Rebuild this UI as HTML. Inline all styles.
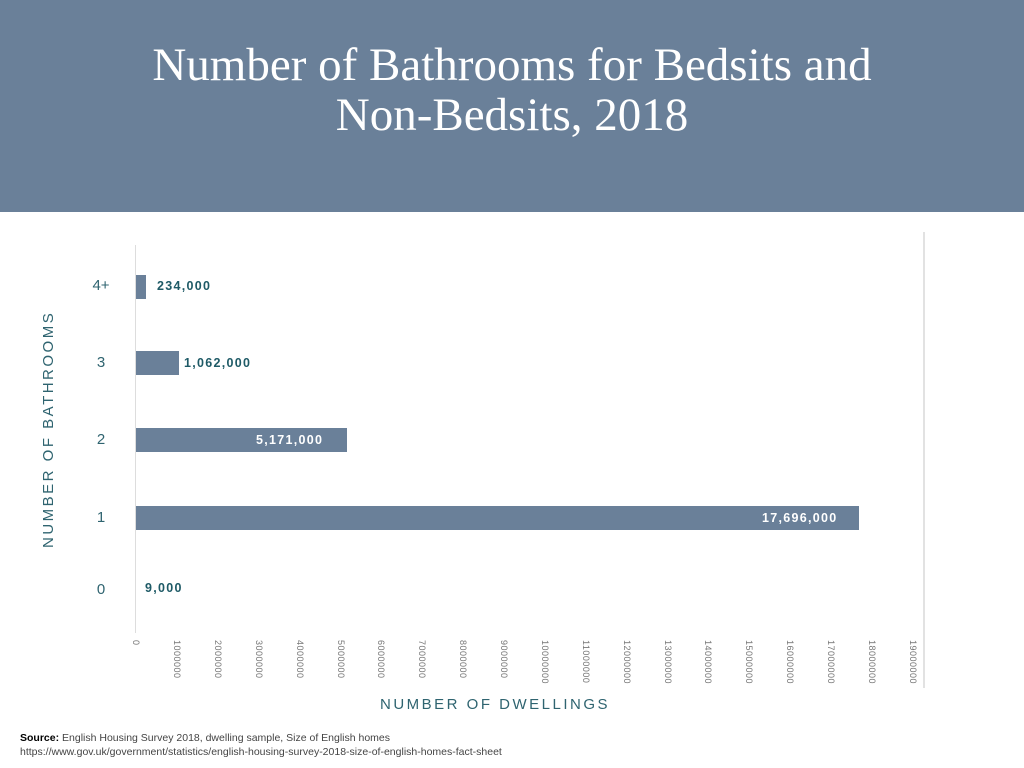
<!DOCTYPE html>
<html><head><meta charset="utf-8"><style>
body{margin:0;width:1024px;height:768px;background:#fff;position:relative;overflow:hidden;font-family:"Liberation Sans",sans-serif}
.hdr{position:absolute;left:0;top:0;width:1024px;height:212px;background:#6a8099}
.t{position:absolute;left:0;width:1024px;text-align:center;color:#fff;font-family:"Liberation Serif",serif;font-size:47px;line-height:50px}
.bar{position:absolute;left:136px;height:24px;background:#6a8099}
.v{position:absolute;font-weight:bold;font-size:12.5px;color:#1e5a66;letter-spacing:1.3px}
.y{position:absolute;width:30px;text-align:center;color:#2f6470;font-size:15px}
.tk{position:absolute;top:640px;font-size:9px;color:#777;writing-mode:vertical-rl;letter-spacing:0.5px}
</style></head><body>
<div class="hdr"></div>
<div class="t" style="top:40px">Number of Bathrooms for Bedsits and</div>
<div class="t" style="top:90px">Non-Bedsits, 2018</div>
<div style="position:absolute;left:135px;top:245px;width:1px;height:388px;background:#ddd"></div>
<div style="position:absolute;left:923px;top:232px;width:2px;height:456px;background:#e2e2e2"></div>
<div class="bar" style="top:275px;width:10px"></div>
<div class="bar" style="top:351px;width:43px"></div>
<div class="bar" style="top:428px;width:211px"></div>
<div class="bar" style="top:506px;width:723px"></div>
<div class="v" style="left:157px;top:279px">234,000</div>
<div class="v" style="left:184px;top:356px">1,062,000</div>
<div class="v" style="left:256px;top:433px;color:#fff">5,171,000</div>
<div class="v" style="left:762px;top:511px;color:#fff">17,696,000</div>
<div class="v" style="left:145px;top:581px">9,000</div>
<div class="y" style="left:86px;top:277px">4+</div>
<div class="y" style="left:86px;top:354px">3</div>
<div class="y" style="left:86px;top:431px">2</div>
<div class="y" style="left:86px;top:509px">1</div>
<div class="y" style="left:86px;top:581px">0</div>
<div style="position:absolute;left:40px;top:548px;transform:rotate(-90deg);transform-origin:0 0;color:#2f6470;font-size:15px;letter-spacing:2.5px;white-space:nowrap">NUMBER OF BATHROOMS</div>
<div style="position:absolute;left:380px;top:696px;color:#2f6470;font-size:15px;letter-spacing:2.5px">NUMBER OF DWELLINGS</div>
<div class="tk" style="left:131px">0</div>
<div style="position:absolute;left:20px;top:732px;font-size:10.5px;color:#444"><b style="color:#000">Source:</b> English Housing Survey 2018, dwelling sample, Size of English homes</div>
<div style="position:absolute;left:20px;top:746px;font-size:10.5px;color:#444">https://www.gov.uk/government/statistics/english-housing-survey-2018-size-of-english-homes-fact-sheet</div>
<div class="tk" style="left:172px">1000000</div><div class="tk" style="left:213px">2000000</div><div class="tk" style="left:254px">3000000</div><div class="tk" style="left:295px">4000000</div><div class="tk" style="left:336px">5000000</div><div class="tk" style="left:376px">6000000</div><div class="tk" style="left:417px">7000000</div><div class="tk" style="left:458px">8000000</div><div class="tk" style="left:499px">9000000</div><div class="tk" style="left:540px">10000000</div><div class="tk" style="left:581px">11000000</div><div class="tk" style="left:622px">12000000</div><div class="tk" style="left:663px">13000000</div><div class="tk" style="left:703px">14000000</div><div class="tk" style="left:744px">15000000</div><div class="tk" style="left:785px">16000000</div><div class="tk" style="left:826px">17000000</div><div class="tk" style="left:867px">18000000</div><div class="tk" style="left:908px">19000000</div>
</body></html>
